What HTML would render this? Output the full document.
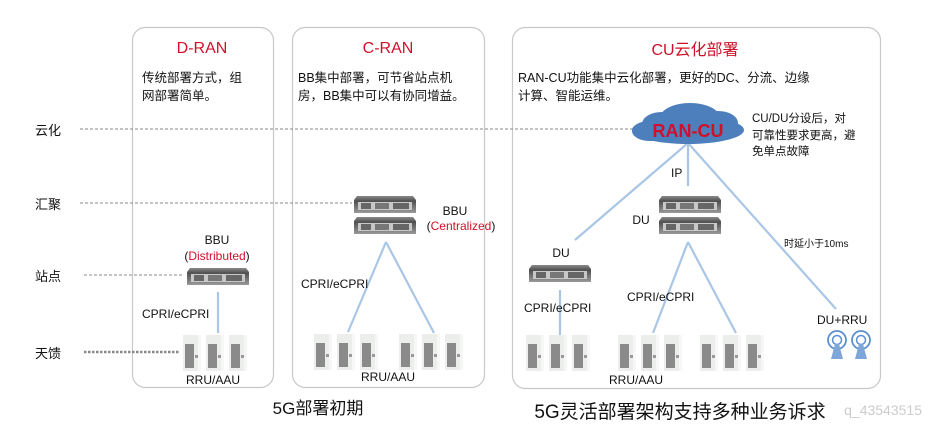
<!DOCTYPE html>
<html><head><meta charset="utf-8"><style>
html,body{margin:0;padding:0;background:#fff;width:934px;height:429px;overflow:hidden}
svg{display:block}
text{font-family:"Liberation Sans","Noto Sans CJK SC",sans-serif;fill:#111}
.r{fill:#d0102a}
</style></head><body>
<svg width="934" height="429" viewBox="0 0 934 429" xmlns="http://www.w3.org/2000/svg">
<defs>
<linearGradient id="sg" x1="0" y1="0" x2="0" y2="1"><stop offset="0" stop-color="#8a8a8a"/><stop offset="0.3" stop-color="#505050"/><stop offset="1" stop-color="#9a9a9a"/></linearGradient>
<g id="srv"><path d="M2 0 H58 L61 4 V17 H-1 V4 Z" fill="url(#sg)"/><rect x="3" y="6" width="54" height="8" fill="#c8c8c8"/><rect x="6" y="7" width="10" height="6" fill="#666"/><rect x="20" y="7" width="14" height="6" fill="#777"/><rect x="38" y="7" width="16" height="6" fill="#666"/></g>
<g id="rru"><rect x="0" y="0" width="18" height="36" fill="#eceeec"/><rect x="2" y="9" width="9" height="24" fill="#8a8a8a"/><rect x="12" y="20" width="4" height="3" fill="#999"/><rect x="15" y="0" width="3" height="36" fill="#f7f7f7"/></g>
<g id="rg"><use href="#rru" x="0"/><use href="#rru" x="23"/><use href="#rru" x="46"/></g>
<g id="ant"><circle cx="0" cy="0" r="9" fill="none" stroke="#5b8fd0" stroke-width="1.8"/><circle cx="0" cy="0" r="4.5" fill="none" stroke="#5b8fd0" stroke-width="1.5"/><path d="M-2 4 L2 4 L6 19 L-6 19 Z" fill="#7ea6d8"/></g>
</defs>
<!-- boxes -->
<rect x="132.5" y="27.5" width="141" height="360" rx="13" fill="#fff" stroke="#c8c8c8" stroke-width="1.2"/>
<rect x="292.5" y="27.5" width="192" height="360" rx="13" fill="#fff" stroke="#c8c8c8" stroke-width="1.2"/>
<rect x="512.5" y="27.5" width="368" height="361" rx="13" fill="#fff" stroke="#c8c8c8" stroke-width="1.2"/>
<!-- dashed -->
<g stroke="#888" stroke-width="1" stroke-dasharray="3,2">
<line x1="80" y1="129" x2="640" y2="129"/>
<line x1="80" y1="203" x2="352" y2="203"/>
<line x1="84" y1="275" x2="182" y2="275"/>
</g>
<line x1="84" y1="352" x2="180" y2="352" stroke="#888" stroke-width="2.5" stroke-dasharray="2.5,1.5"/>
<!-- left labels -->
<g font-size="13"><text x="35" y="135">云化</text><text x="35" y="209">汇聚</text><text x="35" y="281">站点</text><text x="35" y="358">天馈</text></g>
<!-- titles -->
<text x="202" y="53" font-size="16" text-anchor="middle" class="r">D-RAN</text>
<text x="388" y="53" font-size="16" text-anchor="middle" class="r">C-RAN</text>
<text x="695" y="55" font-size="16" text-anchor="middle" class="r">CU云化部署</text>
<g font-size="12.5">
<text x="142" y="82">传统部署方式，组</text><text x="142" y="100">网部署简单。</text>
<text x="298" y="82">BB集中部署，可节省站点机</text><text x="298" y="100">房，BB集中可以有协同增益。</text>
<text x="518" y="82">RAN-CU功能集中云化部署，更好的DC、分流、边缘</text><text x="518" y="100">计算、智能运维。</text>
</g>
<!-- connectors -->
<g stroke="#aac6e6" stroke-width="2.2" fill="none">
<line x1="218" y1="292" x2="218" y2="333"/>
<line x1="386" y1="242" x2="348" y2="332"/><line x1="386" y1="242" x2="434" y2="333"/>
<line x1="688" y1="143" x2="688" y2="186"/>
<line x1="688" y1="143" x2="575" y2="240"/>
<line x1="688" y1="143" x2="836" y2="309"/>
<line x1="688" y1="242" x2="653" y2="333"/><line x1="688" y1="242" x2="736" y2="333"/>
<line x1="560" y1="290" x2="560" y2="336"/>
</g>
<!-- cloud -->
<g fill="#4d7fbd">
<ellipse cx="688" cy="130" rx="56" ry="14"/><ellipse cx="690" cy="118" rx="30" ry="15"/><ellipse cx="662" cy="124" rx="20" ry="12"/><ellipse cx="718" cy="123" rx="20" ry="12"/><ellipse cx="650" cy="131" rx="18" ry="10"/>
</g>
<text x="688" y="137" font-size="18" font-weight="bold" text-anchor="middle" class="r">RAN-CU</text>
<g font-size="11.5"><text x="752" y="122">CU/DU分设后，对</text><text x="752" y="139">可靠性要求更高，避</text><text x="752" y="155">免单点故障</text></g>
<!-- servers -->
<use href="#srv" x="188" y="268"/>
<use href="#srv" x="355" y="196"/><use href="#srv" x="355" y="217"/>
<use href="#srv" x="660" y="196"/><use href="#srv" x="660" y="217"/>
<use href="#srv" x="530" y="265"/>
<!-- rru -->
<use href="#rg" x="183" y="335"/>
<use href="#rg" x="314" y="334"/><use href="#rg" x="399" y="334"/>
<use href="#rg" x="526" y="335"/><use href="#rg" x="618" y="335"/><use href="#rg" x="700" y="335"/>
<use href="#ant" x="837" y="340"/><use href="#ant" x="861" y="340"/>
<!-- labels -->
<g font-size="12">
<text x="217" y="244" text-anchor="middle">BBU</text>
<text x="217" y="260" text-anchor="middle"><tspan>(</tspan><tspan class="r">Distributed</tspan><tspan>)</tspan></text>
<text x="455" y="215" text-anchor="middle">BBU</text>
<text x="461" y="230" text-anchor="middle"><tspan>(</tspan><tspan class="r">Centralized</tspan><tspan>)</tspan></text>
<text x="142" y="318">CPRI/eCPRI</text>
<text x="301" y="288">CPRI/eCPRI</text>
<text x="524" y="312">CPRI/eCPRI</text>
<text x="627" y="301">CPRI/eCPRI</text>
<text x="213" y="384" text-anchor="middle">RRU/AAU</text>
<text x="388" y="381" text-anchor="middle">RRU/AAU</text>
<text x="636" y="384" text-anchor="middle">RRU/AAU</text>
<text x="671" y="177">IP</text>
<text x="561" y="257" text-anchor="middle">DU</text>
<text x="641" y="224" text-anchor="middle">DU</text>
<text x="817" y="324">DU+RRU</text>
</g>
<text x="784" y="247" font-size="10">时延小于10ms</text>
<text x="318" y="414" font-size="17" text-anchor="middle">5G部署初期</text>
<text x="680" y="418" font-size="19" text-anchor="middle">5G灵活部署架构支持多种业务诉求</text>
<text x="922" y="415" font-size="14" text-anchor="end" style="fill:#ccc">q_43543515</text>
</svg>
</body></html>
